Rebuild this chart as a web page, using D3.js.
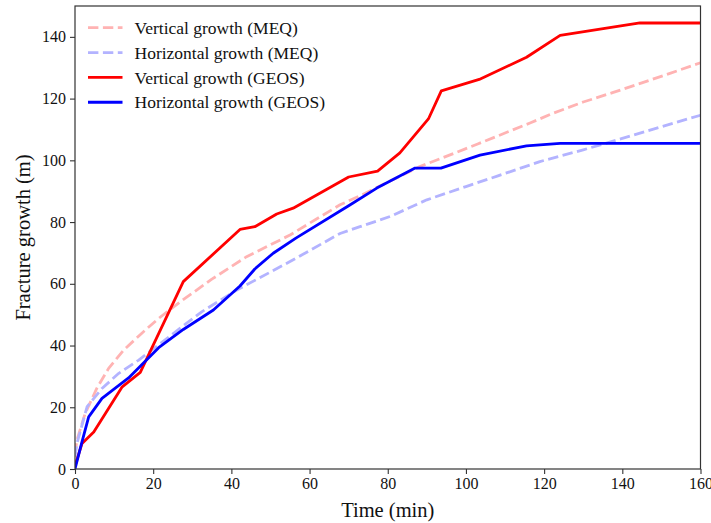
<!DOCTYPE html>
<html>
<head>
<meta charset="utf-8">
<script src="https://cdn.jsdelivr.net/npm/d3@7"></script>
<style>
  html, body { margin: 0; padding: 0; background: #fff; }
  svg { display: block; }
  text { font-family: "Liberation Serif", "DejaVu Serif", serif; fill: #111; }
</style>
</head>
<body>
<svg id="chart" width="711" height="523"></svg>
<script>
// Fracture growth over time: MEQ estimates (dashed) vs GEOS simulation (solid)
const meqVertTime = [0, 0.5, 2.6, 5.6, 8.6, 12.5, 17.1, 21.4, 27.4, 35, 43.9, 55, 67.8, 72.9, 80.6, 88.2, 93.4, 103, 116.4, 122.4, 130, 137.7, 145, 152, 160];
const meqVertGrowth = [5, 9.4, 18, 26.2, 32.6, 38.6, 44, 48.8, 54.6, 61.5, 68.8, 75.8, 85.6, 88.5, 93.3, 98, 100.5, 105.3, 112.1, 115.3, 118.9, 122, 125.1, 128.1, 131.6];

const meqHorTime = [0, 0.5, 3.1, 6.9, 11.2, 16.3, 21.4, 27.4, 32.5, 41.4, 55, 67.8, 72.9, 80.6, 90, 100, 108, 116.4, 118.9, 130, 140, 150, 160];
const meqHorGrowth = [4, 8.3, 20.2, 26.1, 31, 35.3, 40.2, 46.1, 51, 58, 67.2, 76.3, 78.5, 81.8, 87.2, 91.5, 94.9, 98.5, 99.6, 103.4, 107.1, 110.9, 114.6];

const geosVertTime = [0, 1.8, 4.8, 12, 16.7, 27.7, 42.2, 46, 51.6, 55.8, 70, 77.4, 83.1, 90.4, 93.7, 103.4, 115.5, 124.1, 144.5, 160];
const geosVertGrowth = [1, 8.3, 12, 26.5, 31.3, 60.7, 77.6, 78.5, 82.6, 84.5, 94.6, 96.5, 102.4, 113.4, 122.5, 126.2, 133.4, 140.5, 144.5, 144.5];

const geosHorTime = [0, 1.8, 3.5, 6.9, 10.3, 13.7, 21.4, 27.7, 35.4, 42.2, 46, 50.7, 56.5, 70, 77.2, 87, 93.6, 103.6, 115.5, 124.1, 160];
const geosHorGrowth = [0, 8.9, 16.9, 22.9, 26.2, 29.5, 39.3, 45.2, 51.5, 59.3, 64.8, 69.9, 74.8, 85.3, 91, 97.5, 97.5, 101.7, 104.7, 105.5, 105.5];

const xTicks = [0, 20, 40, 60, 80, 100, 120, 140, 160];
const yTicks = [0, 20, 40, 60, 80, 100, 120, 140];

const seriesNames = ["Vertical growth (MEQ)", "Horizontal growth (MEQ)", "Vertical growth (GEOS)", "Horizontal growth (GEOS)"];
const seriesColors = ["#ffb3b3", "#b3b3ff", "#ff0000", "#0000ff"];

const series = [
  { name: seriesNames[0], color: seriesColors[0], dashed: true,  t: meqVertTime,  v: meqVertGrowth },
  { name: seriesNames[1], color: seriesColors[1], dashed: true,  t: meqHorTime,   v: meqHorGrowth },
  { name: seriesNames[2], color: seriesColors[2], dashed: false, t: geosVertTime, v: geosVertGrowth },
  { name: seriesNames[3], color: seriesColors[3], dashed: false, t: geosHorTime,  v: geosHorGrowth }
];

const margin = { left: 75, right: 10.5, top: 6, bottom: 54 };
const width = 711, height = 523;
const svg = d3.select("#chart");

const x = d3.scaleLinear().domain([0, 160]).range([margin.left, width - margin.right]);
const y = d3.scaleLinear().domain([0, 150]).range([height - margin.bottom, margin.top]);

const plot = svg.append("g");
plot.append("clipPath").attr("id", "clip")
  .append("rect")
  .attr("x", x(0)).attr("y", y(150))
  .attr("width", x(160) - x(0)).attr("height", y(0) - y(150));

const line = d3.line().x(d => x(d[0])).y(d => y(d[1]));
const lw = 2.8;

const lines = plot.append("g").attr("clip-path", "url(#clip)");
series.forEach(s => {
  lines.append("path")
    .datum(d3.zip(s.t, s.v))
    .attr("d", line)
    .attr("fill", "none")
    .attr("stroke", s.color)
    .attr("stroke-width", lw)
    .attr("stroke-linejoin", "round")
    .attr("stroke-dasharray", s.dashed ? "10.4,4.5" : null);
});

// axes
const xAxis = d3.axisBottom(x).tickValues(xTicks).tickSize(5).tickPadding(4).tickFormat(d3.format("d"));
const yAxis = d3.axisLeft(y).tickValues(yTicks).tickSize(5).tickPadding(4).tickFormat(d3.format("d"));

const gx = svg.append("g").attr("transform", `translate(0,${y(0)})`).call(xAxis);
const gy = svg.append("g").attr("transform", `translate(${x(0)},0)`).call(yAxis);
[gx, gy].forEach(g => {
  g.select(".domain").remove();
  g.selectAll(".tick line").attr("stroke", "#333").attr("stroke-width", 1.1);
  g.selectAll(".tick text").style("font-size", "16px").attr("fill", "#111");
});

// frame
svg.append("rect")
  .attr("x", x(0)).attr("y", y(150))
  .attr("width", x(160) - x(0)).attr("height", y(0) - y(150))
  .attr("fill", "none").attr("stroke", "#333").attr("stroke-width", 1.2);

// axis titles
svg.append("text")
  .attr("x", (x(0) + x(160)) / 2).attr("y", 517)
  .attr("text-anchor", "middle")
  .style("font-size", "20.5px")
  .text("Time (min)");

svg.append("text")
  .attr("transform", `translate(30,${(y(0) + y(150)) / 2}) rotate(-90)`)
  .attr("text-anchor", "middle")
  .style("font-size", "20.5px")
  .text("Fracture growth (m)");

// legend
const legend = svg.append("g");
series.forEach((s, i) => {
  const cy = 27.7 + i * 24.85;
  legend.append("line")
    .attr("x1", 88).attr("x2", 122.5)
    .attr("y1", cy).attr("y2", cy)
    .attr("stroke", s.color).attr("stroke-width", lw)
    .attr("stroke-dasharray", s.dashed ? "10.4,4.5" : null);
  legend.append("text")
    .attr("x", 134.5).attr("y", cy)
    .attr("dy", "0.35em")
    .style("font-size", "17.5px")
    .text(s.name);
});
</script>
</body>
</html>
